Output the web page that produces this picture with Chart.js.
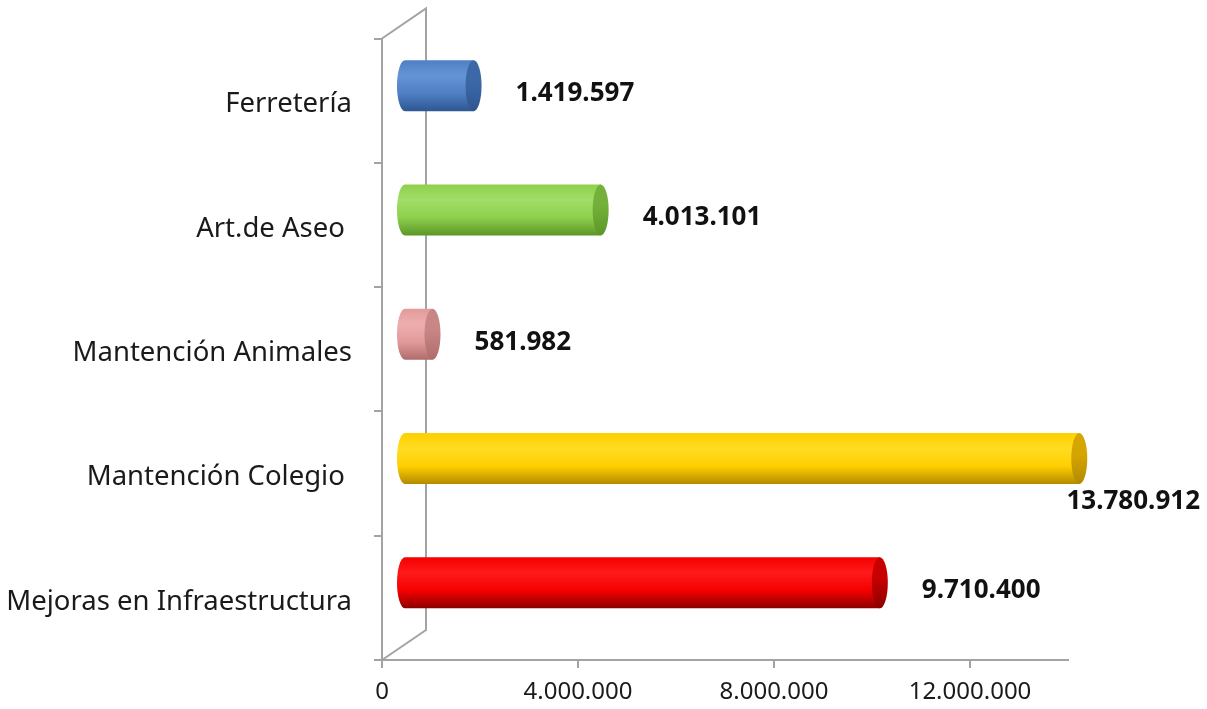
<!DOCTYPE html>
<html lang="es">
<head>
<meta charset="UTF-8">
<title>Gastos por item</title>
<script src="https://cdn.jsdelivr.net/npm/chart.js"></script>
<style>
  html, body { margin: 0; padding: 0; background: #fff; }
  canvas { display: block; }
</style>
</head>
<body>
<canvas id="chart" width="1207" height="709"></canvas>
<script>
  // Data
  const categories = ["Ferretería", "Art.de Aseo ", "Mantención Animales", "Mantención Colegio ", "Mejoras en Infraestructura"];
  const values = [1419597, 4013101, 581982, 13780912, 9710400];
  const xTicks = [0, 4000000, 8000000, 12000000];
  const xMax = 14000000;

  // cylinder shades: [mid, light, dark, end cap]
  const shades = [
    ["#4F7FC4", "#6594D6", "#2E5791", "#3D68A8"],
    ["#8ED04C", "#A2DD68", "#5C9628", "#74B13A"],
    ["#E29A9A", "#EEAEAE", "#B06C6C", "#C98686"],
    ["#FFCF00", "#FFDC22", "#B38A00", "#D6A600"],
    ["#F50000", "#FF1A1A", "#8C0000", "#C80000"]
  ];

  const FONT = "'Noto Sans', 'DejaVu Sans', sans-serif";
  const AXIS = "#A3A3A3";
  const DEPTH_X = 44, DEPTH_Y = -30;

  const fmt = v => String(Math.round(v)).replace(/\B(?=(\d{3})+(?!\d))/g, ".");

  // back wall + cylinders instead of flat bars, then value labels
  const cylinders = {
    id: "cylinders",
    beforeDatasetsDraw(chart) {
      const ctx = chart.ctx;
      const a = chart.chartArea;
      ctx.save();
      ctx.strokeStyle = AXIS;
      ctx.lineWidth = 2;
      ctx.beginPath();
      ctx.moveTo(a.left, a.top);
      ctx.lineTo(a.left + DEPTH_X, a.top + DEPTH_Y);
      ctx.lineTo(a.left + DEPTH_X, a.bottom + DEPTH_Y);
      ctx.lineTo(a.left, a.bottom);
      ctx.stroke();

      const meta = chart.getDatasetMeta(0);
      meta.data.forEach((bar, i) => {
        const s = shades[i];
        const x0 = bar.base + DEPTH_X / 2;
        const x1 = bar.x + DEPTH_X / 2;
        const cy = bar.y + DEPTH_Y / 2;
        const ry = bar.height / 2;
        const rx = 8;
        const top = cy - ry, bottom = cy + ry;

        const g = ctx.createLinearGradient(0, top, 0, bottom);
        g.addColorStop(0, s[0]);
        g.addColorStop(0.3, s[1]);
        g.addColorStop(0.65, s[0]);
        g.addColorStop(1, s[2]);
        ctx.fillStyle = g;
        ctx.beginPath();
        ctx.ellipse(x0, cy, rx, ry, 0, Math.PI / 2, Math.PI * 1.5);
        ctx.lineTo(x1, top);
        ctx.lineTo(x1, bottom);
        ctx.closePath();
        ctx.fill();

        const gc = ctx.createLinearGradient(0, top, 0, bottom);
        gc.addColorStop(0, s[3]);
        gc.addColorStop(0.4, s[3]);
        gc.addColorStop(1, s[2]);
        ctx.fillStyle = gc;
        ctx.beginPath();
        ctx.ellipse(x1, cy, rx, ry, 0, 0, Math.PI * 2);
        ctx.fill();
      });
      ctx.restore();
      return false;
    },
    afterDraw(chart) {
      const ctx = chart.ctx;
      const meta = chart.getDatasetMeta(0);
      ctx.save();
      ctx.font = "bold 26px " + FONT;
      ctx.fillStyle = "#111";
      ctx.textBaseline = "middle";
      meta.data.forEach((bar, i) => {
        const text = fmt(values[i]);
        const w = ctx.measureText(text).width;
        const x = bar.x + 64;
        if (x + w > chart.width - 5) {
          ctx.textAlign = "right";
          ctx.fillText(text, chart.width - 7, bar.y + 28);
        } else {
          ctx.textAlign = "left";
          ctx.fillText(text, x, bar.y - 7);
        }
      });
      ctx.restore();
    }
  };

  new Chart(document.getElementById("chart"), {
    type: "bar",
    data: {
      labels: categories,
      datasets: [{
        data: values,
        backgroundColor: shades.map(s => s[0]),
        categoryPercentage: 1,
        barPercentage: 0.41
      }]
    },
    options: {
      indexAxis: "y",
      responsive: false,
      animation: false,
      devicePixelRatio: 1,
      layout: { padding: { left: 0, right: 139, top: 33, bottom: 0 } },
      plugins: {
        legend: { display: false },
        tooltip: { enabled: false }
      },
      scales: {
        x: {
          min: 0,
          max: xMax,
          afterBuildTicks: s => { s.ticks = xTicks.map(v => ({ value: v })); },
          afterFit: s => { s.height = 49; },
          grid: { drawOnChartArea: false, tickLength: 8, color: AXIS, lineWidth: 2 },
          border: { color: AXIS, width: 2 },
          ticks: {
            color: "#1a1a1a",
            padding: 10,
            maxRotation: 0,
            font: { family: FONT, size: 24 },
            callback: v => fmt(v)
          }
        },
        y: {
          afterFit: s => { s.width = 382; },
          grid: { offset: true, drawOnChartArea: false, tickLength: 8, color: AXIS, lineWidth: 2 },
          border: { color: AXIS, width: 2 },
          ticks: {
            color: "#1a1a1a",
            padding: 22,
            labelOffset: 4,
            font: { family: FONT, size: 27.5 }
          }
        }
      }
    },
    plugins: [cylinders]
  });
</script>
</body>
</html>
